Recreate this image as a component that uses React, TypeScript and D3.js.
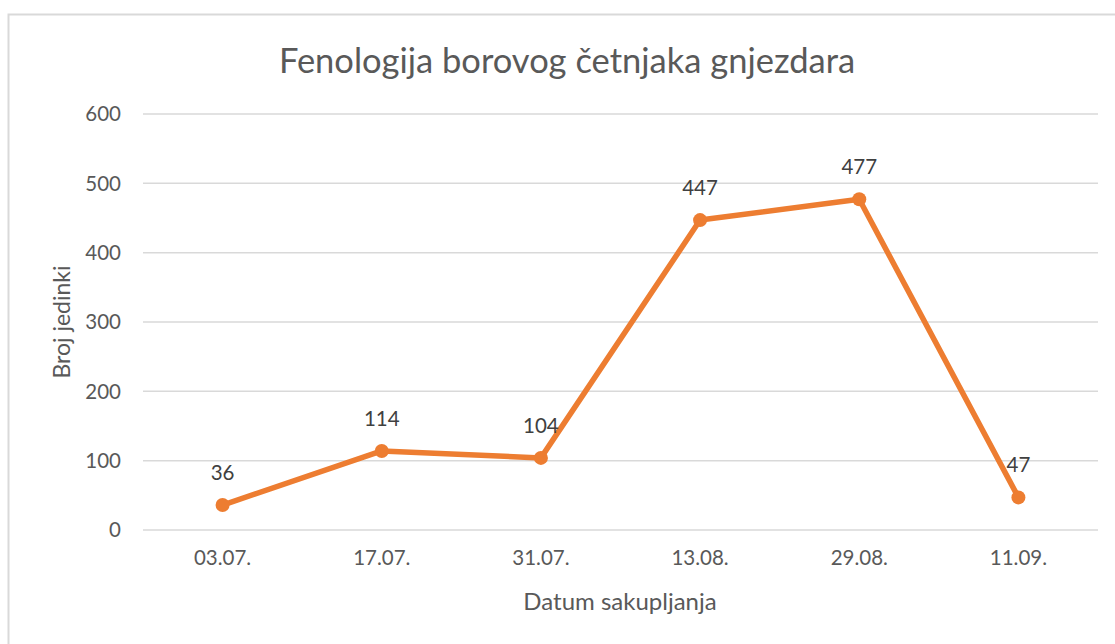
import React, { useRef, useEffect } from 'react';
import * as d3 from 'd3';

const dates = ['03.07.', '17.07.', '31.07.', '13.08.', '29.08.', '11.09.'];
const counts = [36, 114, 104, 447, 477, 47];
const yTicks = [0, 100, 200, 300, 400, 500, 600];

const App = () => {
  const svgRef = useRef<SVGSVGElement>(null);

  useEffect(() => {
    const w = 1115;
    const h = 644;
    const font = 'Lato, "Open Sans", sans-serif';
    const svg = d3.select(svgRef.current).attr('width', w).attr('height', h);
    svg.selectAll('*').remove();

    // outer chart frame
    svg.append('rect')
      .attr('x', 8.5).attr('y', 14.5)
      .attr('width', 1120).attr('height', 640)
      .attr('fill', '#fff').attr('stroke', '#d9d9d9').attr('stroke-width', 2);

    const xScale = d3.scaleBand().domain(dates).range([143, 1098]);
    const yScale = d3.scaleLinear().domain([0, 600]).range([530, 114]);

    // gridlines
    svg.append('g')
      .selectAll('line')
      .data(yTicks)
      .join('line')
      .attr('x1', 143).attr('x2', 1098)
      .attr('y1', (d) => yScale(d)).attr('y2', (d) => yScale(d))
      .attr('stroke', '#d9d9d9').attr('stroke-width', 1.5);

    // y tick labels
    svg.append('g')
      .selectAll('text')
      .data(yTicks)
      .join('text')
      .attr('x', 121).attr('y', (d) => yScale(d))
      .attr('dy', '0.35em')
      .attr('text-anchor', 'end')
      .attr('font-family', font).attr('font-size', 20.5).attr('fill', '#595959')
      .text((d) => d);

    // x tick labels
    svg.append('g')
      .selectAll('text')
      .data(dates)
      .join('text')
      .attr('x', (d) => xScale(d)! + xScale.bandwidth() / 2)
      .attr('y', 565)
      .attr('text-anchor', 'middle')
      .attr('font-family', font).attr('font-size', 20.5).attr('fill', '#595959')
      .text((d) => d);

    // title
    svg.append('text')
      .attr('x', 567).attr('y', 73)
      .attr('text-anchor', 'middle')
      .attr('font-family', font).attr('font-size', 34.5).attr('fill', '#595959')
      .text('Fenologija borovog četnjaka gnjezdara');

    // axis titles
    svg.append('text')
      .attr('x', 620).attr('y', 610)
      .attr('text-anchor', 'middle')
      .attr('font-family', font).attr('font-size', 24).attr('fill', '#595959')
      .text('Datum sakupljanja');

    svg.append('text')
      .attr('transform', 'translate(70,322) rotate(-90)')
      .attr('text-anchor', 'middle')
      .attr('font-family', font).attr('font-size', 23).attr('fill', '#595959')
      .text('Broj jedinki');

    const cx = (i: number) => xScale(dates[i])! + xScale.bandwidth() / 2;

    const line = d3.line<number>()
      .x((d, i) => cx(i))
      .y((d) => yScale(d));

    svg.append('path')
      .datum(counts)
      .attr('d', line)
      .attr('fill', 'none')
      .attr('stroke', '#ED7D31')
      .attr('stroke-width', 5.5)
      .attr('stroke-linejoin', 'round');

    svg.append('g')
      .selectAll('circle')
      .data(counts)
      .join('circle')
      .attr('cx', (d, i) => cx(i))
      .attr('cy', (d) => yScale(d))
      .attr('r', 7)
      .attr('fill', '#ED7D31');

    // data labels
    svg.append('g')
      .selectAll('text')
      .data(counts)
      .join('text')
      .attr('x', (d, i) => cx(i))
      .attr('y', (d) => yScale(d) - 25)
      .attr('text-anchor', 'middle')
      .attr('font-family', font).attr('font-size', 20.5).attr('fill', '#404040')
      .text((d) => d);
  }, []);

  return (
    <div style={{ position: 'absolute', left: 0, top: 0 }}>
      <svg ref={svgRef} style={{ display: 'block' }}></svg>
    </div>
  );
};

export default App;
